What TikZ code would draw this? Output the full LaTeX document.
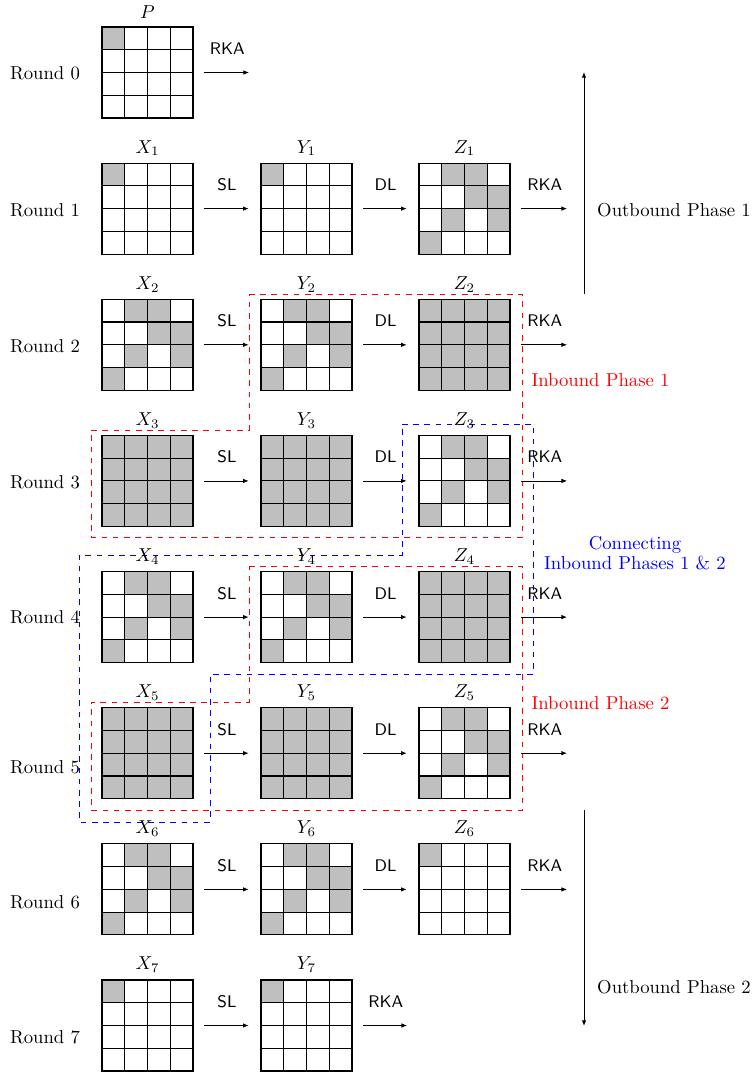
\documentclass[tikz,border=0pt]{standalone}
\usetikzlibrary{arrows.meta}
\tikzset{
  px/.style={x=0.535pt,y=-0.535pt},
  cellfill/.style={fill=lightgray},
  gridline/.style={line width=0.6pt, line cap=rect},
  gridbox/.style={minimum size=48.7pt, inner sep=0pt, draw=none},
  arr/.style={-{Latex[length=3pt,width=2.4pt]}, line width=0.4pt, shorten <=5.9pt, shorten >=6.4pt},
  oplab/.style={font=\sffamily\small, yshift=12.8pt},
  outarr/.style={-{Latex[length=3pt,width=2.4pt]}, line width=0.5pt},
  inb/.style={draw=red, dashed, line width=0.4pt},
  con/.style={draw=blue, dashed, line width=0.4pt},
}
\newcommand\cellsone{0/0}
\newcommand\cellsA{1/0,2/0,2/1,3/1,1/2,3/2,0/3}
\newcommand\cellsfull{0/0,1/0,2/0,3/0,0/1,1/1,2/1,3/1,0/2,1/2,2/2,3/2,0/3,1/3,2/3,3/3}
\newcommand\drawgrid[5]{%
  \foreach \c/\r in #4 {\fill[cellfill] ({#2+\c*22.75},{#3+\r*22.75}) rectangle ++(22.75,22.75);}
  \foreach \i in {0,...,4} {
    \draw[gridline] ({#2+\i*22.75},#3) -- ++(0,91);
    \draw[gridline] (#2,{#3+\i*22.75}) -- ++(91,0);
  }
  \node[gridbox] (#1) at ({#2+45.5},{#3+45.5}) {};
  \node (#1lab) at ({#2+45.5},{#3-15}) {$#5$};
}
\begin{document}
\begin{tikzpicture}[px]
\useasboundingbox (0,0) rectangle (751,1074);

% dashed regions
\draw[inb] (249,294) -- (522,294) -- (522,537) -- (91,537) -- (91,430) -- (249,430) -- cycle;
\draw[con] (402,424) -- (533,424) -- (533,674) -- (210,674) -- (210,822) -- (79,822) -- (79,555.4) -- (402,555.4) -- cycle;
\draw[inb] (249,566) -- (522,566) -- (522,810) -- (91,810) -- (91,702) -- (249,702) -- cycle;

% Round 0
\drawgrid{P}{102}{27}{\cellsone}{P}
\coordinate (P0end) at (261,72.5);
\draw[arr] (P) -- node[oplab]{RKA} (P0end);
\node (r0) at (45,73) {Round 0};

% Round 1
\drawgrid{X1}{102}{163.1}{\cellsone}{X_1}
\drawgrid{Y1}{261}{163.1}{\cellsone}{Y_1}
\drawgrid{Z1}{419}{163.1}{\cellsA}{Z_1}
\coordinate (Z1end) at (579,208.6);
\draw[arr] (X1) -- node[oplab]{SL} (Y1);
\draw[arr] (Y1) -- node[oplab]{DL} (Z1);
\draw[arr] (Z1) -- node[oplab]{RKA} (Z1end);
\node (r1) at (45,210) {Round 1};

% Round 2
\drawgrid{X2}{102}{299.3}{\cellsA}{X_2}
\drawgrid{Y2}{261}{299.3}{\cellsA}{Y_2}
\drawgrid{Z2}{419}{299.3}{\cellsfull}{Z_2}
\coordinate (Z2end) at (579,344.8);
\draw[arr] (X2) -- node[oplab]{SL} (Y2);
\draw[arr] (Y2) -- node[oplab]{DL} (Z2);
\draw[arr] (Z2) -- node[oplab]{RKA} (Z2end);
\node (r2) at (45,346) {Round 2};

% Round 3
\drawgrid{X3}{102}{435.4}{\cellsfull}{X_3}
\drawgrid{Y3}{261}{435.4}{\cellsfull}{Y_3}
\drawgrid{Z3}{419}{435.4}{\cellsA}{Z_3}
\coordinate (Z3end) at (579,480.9);
\draw[arr] (X3) -- node[oplab]{SL} (Y3);
\draw[arr] (Y3) -- node[oplab]{DL} (Z3);
\draw[arr] (Z3) -- node[oplab]{RKA} (Z3end);
\node (r3) at (45,482) {Round 3};

% Round 4
\drawgrid{X4}{102}{571.6}{\cellsA}{X_4}
\drawgrid{Y4}{261}{571.6}{\cellsA}{Y_4}
\drawgrid{Z4}{419}{571.6}{\cellsfull}{Z_4}
\coordinate (Z4end) at (579,617.1);
\draw[arr] (X4) -- node[oplab]{SL} (Y4);
\draw[arr] (Y4) -- node[oplab]{DL} (Z4);
\draw[arr] (Z4) -- node[oplab]{RKA} (Z4end);
\node (r4) at (45,617) {Round 4};

% Round 5
\drawgrid{X5}{102}{707.7}{\cellsfull}{X_5}
\drawgrid{Y5}{261}{707.7}{\cellsfull}{Y_5}
\drawgrid{Z5}{419}{707.7}{\cellsA}{Z_5}
\coordinate (Z5end) at (579,753.2);
\draw[arr] (X5) -- node[oplab]{SL} (Y5);
\draw[arr] (Y5) -- node[oplab]{DL} (Z5);
\draw[arr] (Z5) -- node[oplab]{RKA} (Z5end);
\node (r5) at (45,767) {Round 5};

% Round 6
\drawgrid{X6}{102}{843.9}{\cellsA}{X_6}
\drawgrid{Y6}{261}{843.9}{\cellsA}{Y_6}
\drawgrid{Z6}{419}{843.9}{\cellsone}{Z_6}
\coordinate (Z6end) at (579,889.4);
\draw[arr] (X6) -- node[oplab]{SL} (Y6);
\draw[arr] (Y6) -- node[oplab]{DL} (Z6);
\draw[arr] (Z6) -- node[oplab]{RKA} (Z6end);
\node (r6) at (45,902) {Round 6};

% Round 7
\drawgrid{X7}{102}{980}{\cellsone}{X_7}
\drawgrid{Y7}{261}{980}{\cellsone}{Y_7}
\coordinate (Y7end) at (419,1025.5);
\draw[arr] (X7) -- node[oplab]{SL} (Y7);
\draw[arr] (Y7) -- node[oplab]{RKA} (Y7end);
\node (r7) at (45,1037) {Round 7};

% phase labels
\coordinate (ob1s) at (584,294);
\coordinate (ob1e) at (584,72);
\draw[outarr] (ob1s) -- (ob1e);
\node (ob1) at (674,210) {Outbound Phase 1};
\coordinate (ob2s) at (584,810);
\coordinate (ob2e) at (584,1026);
\draw[outarr] (ob2s) -- (ob2e);
\node (ob2) at (674,987) {Outbound Phase 2};

\node[text=red] (ib1) at (600.5,380) {Inbound Phase 1};
\node[text=red] (ib2) at (600.5,703) {Inbound Phase 2};
\node[text=blue, align=center] (cn) at (635,553) {Connecting\\[-1.6pt]Inbound Phases 1 \& 2};
\end{tikzpicture}
\end{document}
